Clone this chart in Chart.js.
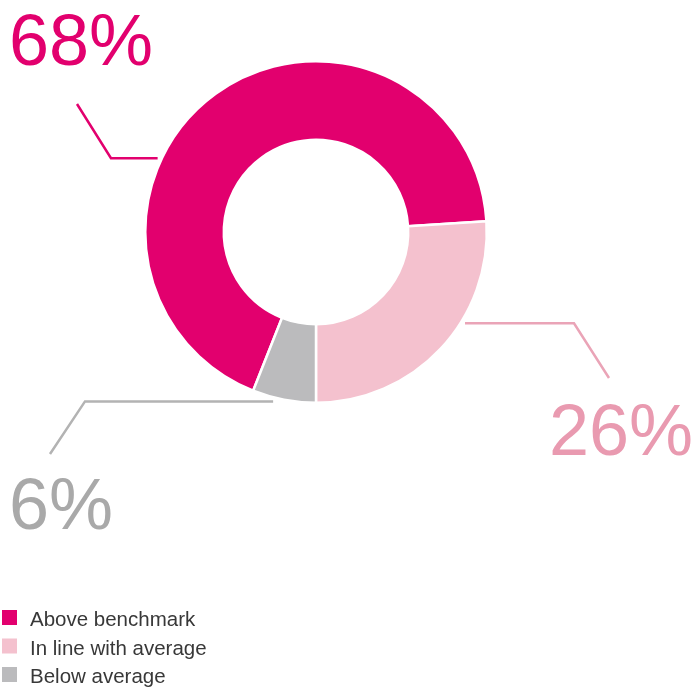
<!DOCTYPE html>
<html>
<head>
<meta charset="utf-8">
<script src="https://cdn.jsdelivr.net/npm/chart.js@4/dist/chart.umd.min.js"></script>
<style>
  html, body { margin: 0; padding: 0; background: #fff; }
  canvas { display: block; }
</style>
</head>
<body>
<canvas id="donut" width="698" height="688"></canvas>
<script>
// data
const categories = ['Above benchmark', 'In line with average', 'Below average'];
const shares = [68, 26, 6];
const sliceColors = ['#e2006e', '#f4c1ce', '#bbbbbd'];
const labelColors = ['#e2006e', '#e99ab0', '#a9a9a9'];
const lineColors = ['#e2006e', '#eaa4b7', '#b3b3b3'];

// leader line geometry, relative to donut centre (angle in deg, points in px)
const leaders = [
  { angle: 205, elbow: [-205, null], end: [-239, -128], text: [-307, -167], align: 'left' },
  { angle: 31.5, elbow: [258, null], end: [293, 146], text: [377, 223], align: 'right' },
  { angle: 104.2, elbow: [-231, null], end: [-266, 222], text: [-307, 297], align: 'left' }
];

const calloutPlugin = {
  id: 'callouts',
  afterDraw(chart) {
    const ctx = chart.ctx;
    const arc = chart.getDatasetMeta(0).data[0];
    const cx = arc.x, cy = arc.y, r = arc.outerRadius;
    ctx.save();
    leaders.forEach((l, i) => {
      const a = l.angle * Math.PI / 180;
      const sx = cx + (r + 4) * Math.cos(a);
      const sy = cy + (r + 4) * Math.sin(a);
      ctx.strokeStyle = lineColors[i];
      ctx.lineWidth = 2.5;
      ctx.beginPath();
      ctx.moveTo(sx, sy);
      ctx.lineTo(cx + l.elbow[0], sy);
      ctx.lineTo(cx + l.end[0], cy + l.end[1]);
      ctx.stroke();

      ctx.fillStyle = labelColors[i];
      ctx.font = '72px "Liberation Sans", Arial, sans-serif';
      ctx.textAlign = l.align;
      ctx.textBaseline = 'alphabetic';
      ctx.fillText(shares[i] + '%', cx + l.text[0], cy + l.text[1]);
    });

    // legend
    ctx.textAlign = 'left';
    ctx.font = '20.5px "Liberation Sans", Arial, sans-serif';
    categories.forEach((c, i) => {
      const y = 610 + i * 28.5;
      ctx.fillStyle = sliceColors[i];
      ctx.fillRect(2, y, 15, 15);
      ctx.fillStyle = '#383838';
      ctx.fillText(c, 30, y + 16);
    });
    ctx.restore();
  }
};

new Chart(document.getElementById('donut'), {
  type: 'doughnut',
  data: {
    labels: categories,
    datasets: [{
      data: shares,
      backgroundColor: sliceColors,
      borderColor: '#ffffff',
      borderWidth: 2.5,
      hoverOffset: 0
    }]
  },
  options: {
    responsive: false,
    animation: false,
    rotation: 201.6,
    cutout: '54%',
    layout: { padding: { left: 144, right: 210, top: 60, bottom: 284 } },
    plugins: {
      legend: { display: false },
      tooltip: { enabled: false }
    }
  },
  plugins: [calloutPlugin]
});
</script>
</body>
</html>
